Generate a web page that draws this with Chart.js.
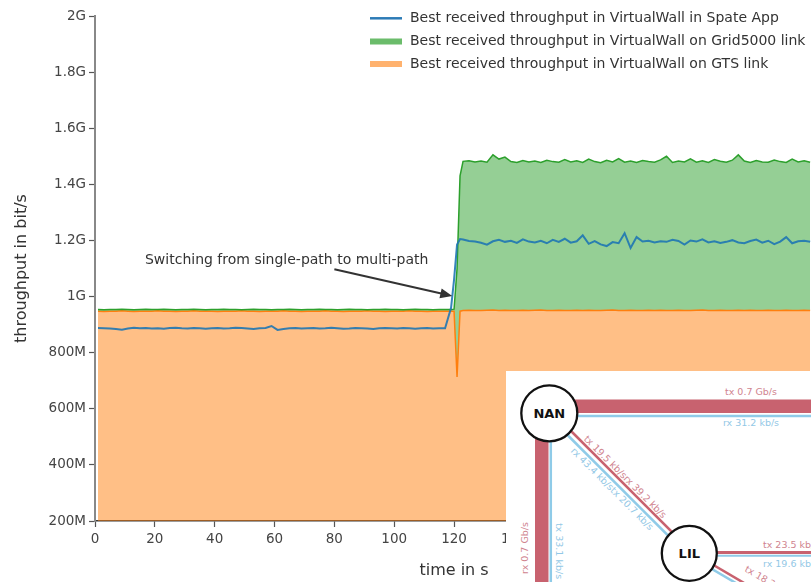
<!DOCTYPE html>
<html>
<head>
<meta charset="utf-8">
<script src="https://cdn.jsdelivr.net/npm/chart.js@4/dist/chart.umd.min.js"></script>
<style>
  body { margin: 0; overflow: hidden; background: #fff; width: 811px; height: 582px; position: relative; }
  #wrap { position: absolute; left: 0; top: 0; width: 830px; height: 582px; }
  #inset { position: absolute; left: 0; top: 0; font-family: "DejaVu Sans", sans-serif; }
</style>
</head>
<body>
<div id="wrap"><canvas id="grafico" width="830" height="582"></canvas></div>

<svg id="inset" width="811" height="582" viewBox="0 0 811 582">
  <rect x="506" y="371" width="305" height="211" fill="#fff"/>
  <!-- NAN -> right -->
  <rect x="549" y="399.5" width="262" height="13.5" fill="#c8626f"/>
  <line x1="549" y1="416" x2="811" y2="416" stroke="#8fcbe8" stroke-width="2.5"/>
  <!-- NAN -> down -->
  <rect x="535" y="413" width="13.5" height="169" fill="#c8626f"/>
  <line x1="550.8" y1="413" x2="550.8" y2="582" stroke="#8fcbe8" stroke-width="2.5"/>
  <!-- NAN -> LIL -->
  <line x1="551" y1="411" x2="691" y2="551" stroke="#c8626f" stroke-width="2.5"/>
  <line x1="547.5" y1="415" x2="687.5" y2="555" stroke="#8fcbe8" stroke-width="2.5"/>
  <!-- LIL -> right -->
  <line x1="689" y1="552.5" x2="811" y2="552.5" stroke="#c8626f" stroke-width="3"/>
  <line x1="689" y1="555.8" x2="811" y2="555.8" stroke="#8fcbe8" stroke-width="2"/>
  <!-- LIL -> down right -->
  <line x1="690.5" y1="551.5" x2="790" y2="610" stroke="#c8626f" stroke-width="2.5"/>
  <line x1="688" y1="555" x2="787" y2="613" stroke="#8fcbe8" stroke-width="2.5"/>

  <g font-size="9.5">
    <text x="751" y="395" fill="#d0848f" text-anchor="middle">tx 0.7 Gb/s</text>
    <text x="751" y="426" fill="#93c8e6" text-anchor="middle">rx 31.2 kb/s</text>
    <text transform="translate(528,548) rotate(-90)" fill="#d0848f" text-anchor="middle">rx 0.7 Gb/s</text>
    <text transform="translate(556,551) rotate(90)" fill="#93c8e6" text-anchor="middle">tx 33.1 kb/s</text>
    <text transform="translate(625,477) rotate(45)" fill="#d0848f" text-anchor="middle" dy="3">tx 19.5 kb/srx 39.2 kb/s</text>
    <text transform="translate(612,489) rotate(45)" fill="#93c8e6" text-anchor="middle" dy="3">rx 43.4 kb/stx 20.7 kb/s</text>
    <text x="763" y="548" fill="#d0848f">tx 23.5 kb/s</text>
    <text x="763" y="567" fill="#93c8e6">rx 19.6 kb/s</text>
    <text transform="translate(744,571) rotate(30)" fill="#d0848f">tx 18.2 kb/s</text>
  </g>

  <circle cx="549.3" cy="413.3" r="28" fill="#fff" stroke="#111" stroke-width="2.3"/>
  <text x="549.3" y="418" font-size="13" font-weight="bold" text-anchor="middle" fill="#111">NAN</text>
  <circle cx="689.3" cy="553.3" r="27.5" fill="#fff" stroke="#111" stroke-width="2.3"/>
  <text x="689.3" y="558" font-size="13" font-weight="bold" text-anchor="middle" fill="#111">LIL</text>
</svg>

<script>
// time in s
const tempo = [
  1,3,5,7,9,11,13,15,17,19,
  21,23,25,27,29,31,33,35,37,39,
  41,43,45,47,49,51,53,55,57,59,
  61,63,65,67,69,71,73,75,77,79,
  81,83,85,87,89,91,93,95,97,99,
  101,103,105,107,109,111,113,115,117,119,
  120,121,122,
  123,125,127,129,131,133,135,137,139,141,
  143,145,147,149,151,153,155,157,159,161,
  163,165,167,169,171,173,175,177,179,181,
  183,185,187,189,191,193,195,197,199,201,
  203,205,207,209,211,213,215,217,219,221,
  223,225,227,229,231,233,235,237,239
];

// throughput in Mbit/s
const spateApp = [
  888,887,886,884,882,886,889,887,888,886,
  887,885,888,889,887,886,888,887,885,887,
  888,886,887,889,888,886,884,887,888,895,
  881,884,887,888,886,887,888,886,887,889,
  887,885,886,888,887,886,884,887,888,887,
  886,888,887,885,887,888,886,887,887,960,
  1060,1185,1205,
  1203,1198,1196,1192,1185,1197,1202,1195,1199,1191,
  1204,1196,1193,1199,1190,1202,1195,1206,1192,1197,
  1218,1188,1198,1186,1180,1194,1190,1226,1173,1212,
  1196,1199,1193,1197,1195,1202,1198,1185,1200,1196,
  1204,1193,1197,1191,1195,1201,1193,1190,1198,1203,
  1192,1199,1187,1196,1212,1190,1197,1199,1195
];

const grid5000 = [
  954,953,954,954,955,954,953,954,955,954,
  954,955,954,953,954,954,955,954,953,954,
  954,955,954,954,953,954,955,954,954,953,
  954,954,955,954,953,954,954,955,954,954,
  953,954,955,954,954,953,954,954,955,954,
  954,953,954,955,954,954,953,954,954,954,
  955,1100,1430,
  1482,1484,1480,1483,1479,1505,1490,1497,1481,1478,
  1485,1480,1483,1478,1486,1481,1479,1488,1480,1484,
  1478,1490,1481,1477,1486,1480,1492,1479,1483,1478,
  1485,1481,1479,1487,1500,1478,1483,1480,1491,1479,
  1484,1478,1488,1482,1479,1486,1505,1483,1478,1485,
  1480,1479,1487,1481,1478,1490,1480,1484,1479
];

const gts = [
  948,947,948,948,949,948,947,948,948,948,
  949,948,948,947,948,948,949,948,948,948,
  947,948,948,948,949,948,948,947,948,948,
  948,949,948,948,947,948,948,948,949,948,
  948,947,948,948,948,949,948,948,947,948,
  948,948,949,948,948,947,948,948,948,948,
  948,713,948,
  950,951,950,950,951,952,950,951,950,950,
  951,950,951,952,950,950,951,950,950,951,
  950,951,950,950,951,952,950,950,951,950,
  950,951,950,951,950,950,951,950,950,951,
  952,950,950,951,950,950,951,950,951,950,
  950,951,950,950,951,950,950,951,950
];

const ticksX = [0,20,40,60,80,100,120,140,160,180,200,220,240];
const ticksY = [200,400,600,800,1000,1200,1400,1600,1800,2000];
const ticksYLabels = ['200M','400M','600M','800M','1G','1.2G','1.4G','1.6G','1.8G','2G'];

const legendas = [
  'Best received throughput in VirtualWall in Spate App',
  'Best received throughput in VirtualWall on Grid5000 link',
  'Best received throughput in VirtualWall on GTS link'
];

const fonte = '"DejaVu Sans", sans-serif';

function pontos(valores) {
  return tempo.map((t, i) => ({ x: t, y: valores[i] }));
}

// legend + annotation arrow
const extras = {
  id: 'extras',
  afterDraw(chart) {
    const c = chart.ctx;
    const sx = chart.scales.x, sy = chart.scales.y;
    c.save();

    // annotation
    c.fillStyle = '#333';
    c.font = '14px ' + fonte;
    c.textBaseline = 'middle';
    c.textAlign = 'left';
    c.fillText('Switching from single-path to multi-path', sx.getPixelForValue(16.7), sy.getPixelForValue(1128));

    const x1 = sx.getPixelForValue(80), y1 = sy.getPixelForValue(1097);
    const x2 = sx.getPixelForValue(119.4), y2 = sy.getPixelForValue(1002);
    const ang = Math.atan2(y2 - y1, x2 - x1);
    c.strokeStyle = '#333';
    c.lineWidth = 2;
    c.beginPath();
    c.moveTo(x1, y1);
    c.lineTo(x2 - 9 * Math.cos(ang), y2 - 9 * Math.sin(ang));
    c.stroke();
    c.beginPath();
    c.moveTo(x2, y2);
    c.lineTo(x2 - 12 * Math.cos(ang) + 5 * Math.sin(ang), y2 - 12 * Math.sin(ang) - 5 * Math.cos(ang));
    c.lineTo(x2 - 12 * Math.cos(ang) - 5 * Math.sin(ang), y2 - 12 * Math.sin(ang) + 5 * Math.cos(ang));
    c.closePath();
    c.fill();

    // legend
    const linhas = [18.3, 41.5, 64];
    c.lineWidth = 2.5;
    c.strokeStyle = '#2c7bb6';
    c.beginPath();
    c.moveTo(370, linhas[0]);
    c.lineTo(402, linhas[0]);
    c.stroke();
    c.fillStyle = 'rgba(44,160,44,0.7)';
    c.fillRect(370, linhas[1] - 3, 32, 6);
    c.fillStyle = 'rgba(255,127,14,0.6)';
    c.fillRect(370, linhas[2] - 3, 32, 6);
    c.fillStyle = '#333';
    c.font = '14px ' + fonte;
    legendas.forEach((t, i) => c.fillText(t, 410, linhas[i]));
    c.restore();
  }
};

const ctx = document.getElementById('grafico').getContext('2d');
const grafico = new Chart(ctx, {
  type: 'line',
  data: {
    datasets: [
      {
        label: legendas[0],
        data: pontos(spateApp),
        borderColor: 'rgba(31,119,180,0.9)',
        borderWidth: 2,
        pointRadius: 0,
        fill: false
      },
      {
        label: legendas[1],
        data: pontos(grid5000),
        borderColor: '#2ca02c',
        backgroundColor: 'rgba(44,160,44,0.5)',
        borderWidth: 1.5,
        pointRadius: 0,
        fill: '+1'
      },
      {
        label: legendas[2],
        data: pontos(gts),
        borderColor: '#ff7f0e',
        backgroundColor: 'rgba(255,127,14,0.5)',
        borderWidth: 1.5,
        pointRadius: 0,
        fill: 'start'
      }
    ]
  },
  options: {
    responsive: false,
    animation: false,
    devicePixelRatio: 1,
    layout: { padding: { left: 0, top: 16, right: 15, bottom: 0 } },
    plugins: {
      legend: { display: false },
      tooltip: { enabled: false },
      filler: { drawTime: 'beforeDatasetsDraw' }
    },
    scales: {
      x: {
        type: 'linear',
        min: 0,
        max: 240,
        afterBuildTicks: s => { s.ticks = ticksX.map(v => ({ value: v })); },
        afterFit: s => { s.height = 61; },
        grid: { drawOnChartArea: false, tickLength: 6, tickColor: '#555', tickWidth: 1.2 },
        border: { color: '#3a3a3a', width: 1.5 },
        ticks: { font: { family: fonte, size: 13.5 }, color: '#444', padding: 4, maxRotation: 0, autoSkip: false },
        title: { display: true, text: 'time in s', font: { family: fonte, size: 16 }, color: '#333', padding: { top: 0, bottom: 2 } }
      },
      y: {
        min: 200,
        max: 2000,
        afterBuildTicks: s => { s.ticks = ticksY.map(v => ({ value: v })); },
        afterFit: s => { s.width = 95; },
        grid: { drawOnChartArea: false, tickLength: 6, tickColor: '#555', tickWidth: 1.2 },
        border: { color: '#888', width: 2 },
        ticks: {
          font: { family: fonte, size: 13.5 },
          color: '#444',
          padding: 3,
          autoSkip: false,
          callback: (v, i) => ticksYLabels[i]
        },
        title: { display: true, text: 'throughput in bit/s', font: { family: fonte, size: 16 }, color: '#333', padding: { top: 12, bottom: 0 } }
      }
    }
  },
  plugins: [extras]
});
</script>
</body>
</html>
